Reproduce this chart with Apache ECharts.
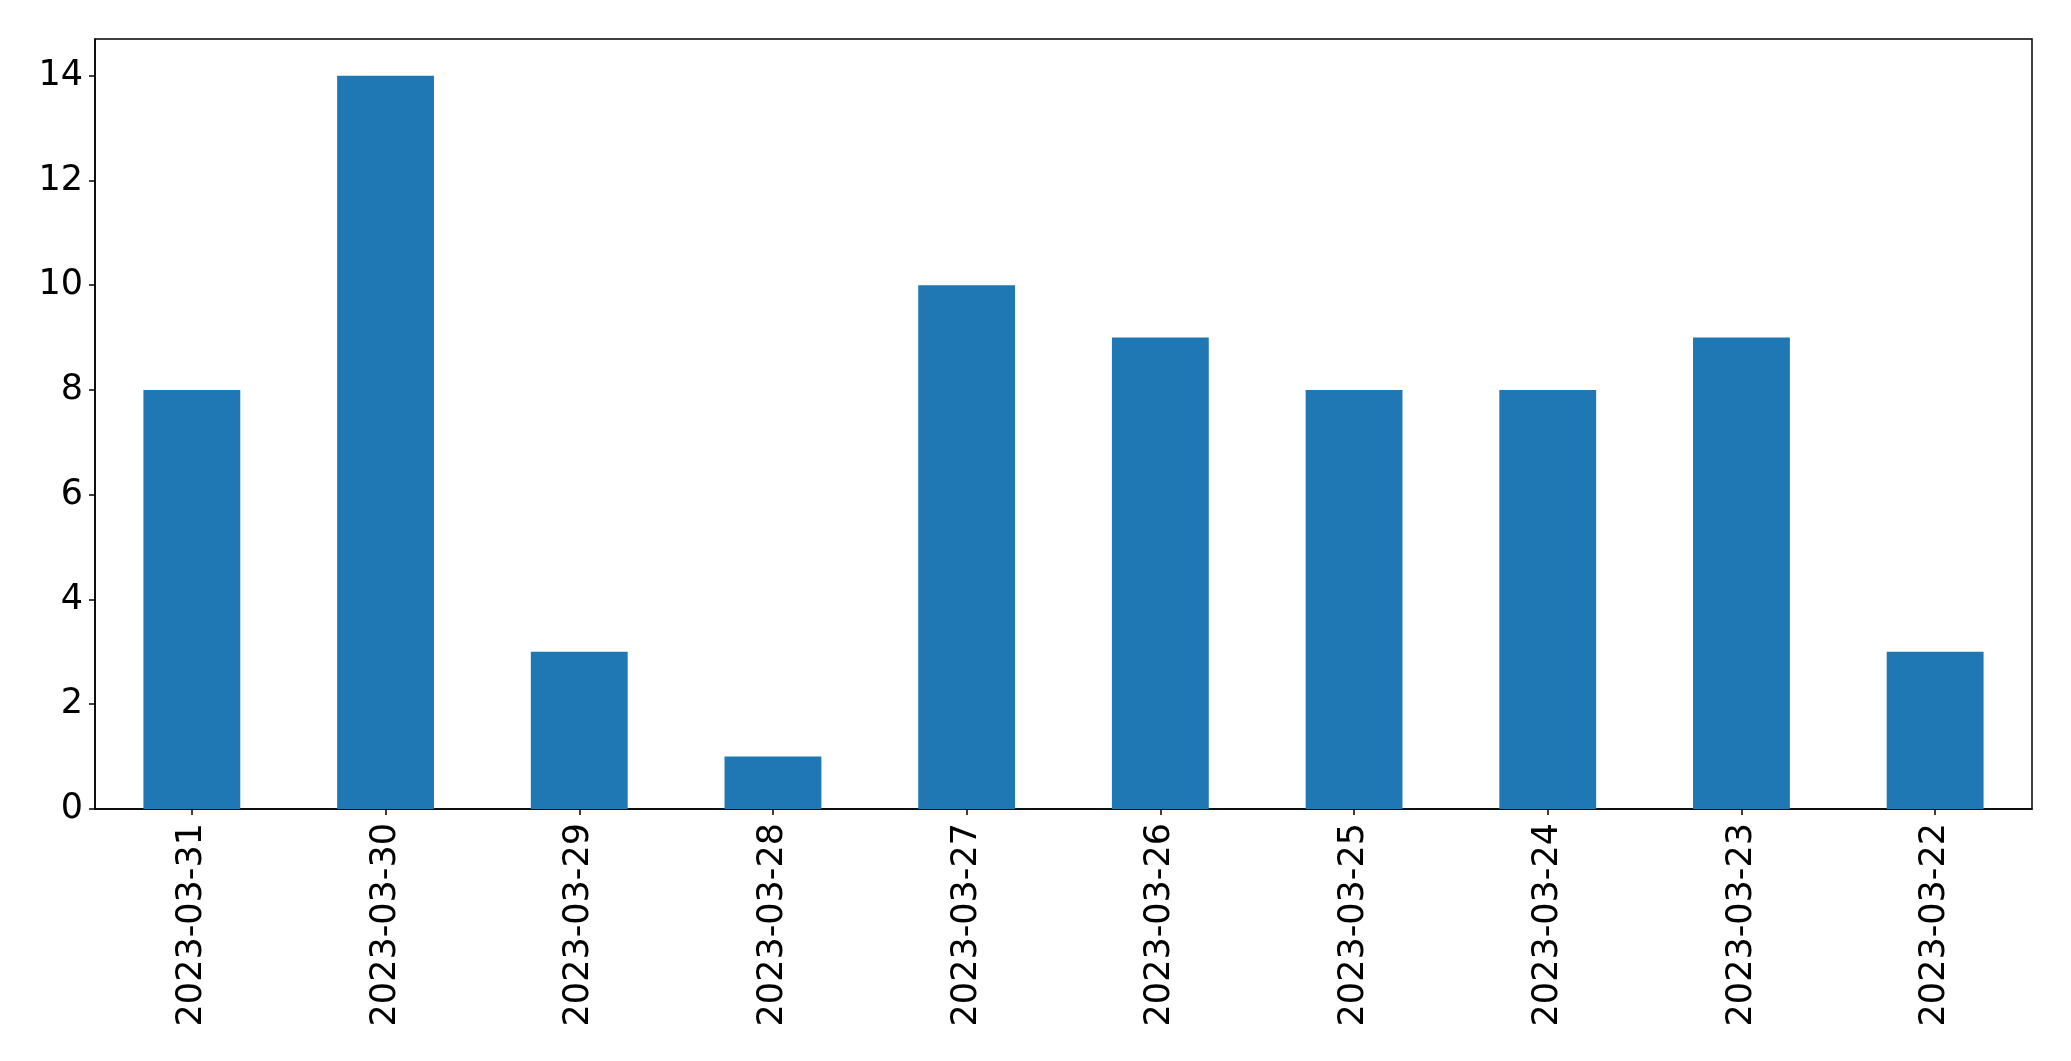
<!DOCTYPE html>
<html>
<head>
<meta charset="utf-8">
<script src="https://cdn.jsdelivr.net/npm/echarts@6/dist/echarts.min.js"></script>
<style>html,body{margin:0;padding:0;background:#fff}#c{width:2071px;height:1061px}</style>
</head>
<body>
<div id="c"></div>
<script>
var categories = ["2023-03-31","2023-03-30","2023-03-29","2023-03-28","2023-03-27","2023-03-26","2023-03-25","2023-03-24","2023-03-23","2023-03-22"];
var values = [8, 14, 3, 1, 10, 9, 8, 8, 9, 3];

var chart = echarts.init(document.getElementById('c'));
chart.setOption({
  animation: false,
  backgroundColor: '#fff',
  textStyle: { fontFamily: 'DejaVu Sans' },
  grid: { left: 95, right: 39, top: 39, bottom: 252, show: true, borderColor: '#000', borderWidth: 1.5, backgroundColor: 'transparent' },
  xAxis: {
    type: 'category',
    data: categories,
    boundaryGap: true,
    axisLine: { show: true, lineStyle: { color: '#000', width: 1.5 } },
    axisTick: { show: true, alignWithLabel: true, length: 6, lineStyle: { color: '#000', width: 1.5 } },
    axisLabel: { rotate: 90, color: '#000', fontSize: 35, fontFamily: 'DejaVu Sans', margin: 14, interval: 0 },
    splitLine: { show: false }
  },
  yAxis: {
    type: 'value',
    min: 0,
    max: 14.7,
    interval: 2,
    axisLine: { show: true, lineStyle: { color: '#000', width: 1.5 } },
    axisTick: { show: true, length: 6, lineStyle: { color: '#000', width: 1.5 } },
    axisLabel: { color: '#000', fontSize: 35, fontFamily: 'DejaVu Sans', margin: 12, showMaxLabel: false },
    splitLine: { show: false }
  },
  series: [{
    type: 'bar',
    data: values,
    barWidth: '50%',
    itemStyle: { color: '#1f77b4' }
  }]
});
</script>
</body>
</html>
